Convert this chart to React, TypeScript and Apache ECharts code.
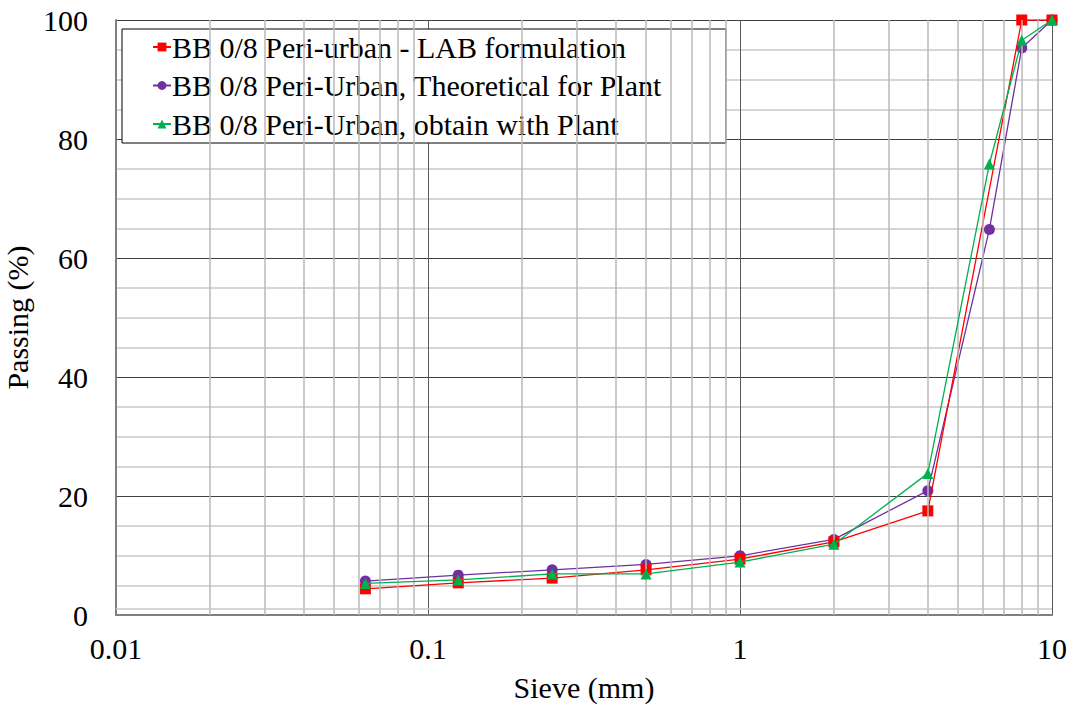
import React, { useEffect, useRef } from "react";
import * as echarts from "echarts";

const sieves = [0.063, 0.125, 0.25, 0.5, 1, 2, 4, 6.3, 8, 10];
const labFormulation = [4.4, 5.4, 6.2, 7.6, 9.4, 12.3, 17.5, null, 100, 100];
const theoreticalPlant = [5.7, 6.7, 7.6, 8.5, 9.95, 12.7, 20.9, 64.8, 95.3, 100];
const obtainPlant = [5.3, 5.9, 6.9, 6.9, 8.9, 11.9, 23.8, 75.8, 96.6, 100];
const seriesNames = [
  "BB 0/8 Peri-urban - LAB formulation",
  "BB 0/8 Peri-Urban, Theoretical for Plant",
  "BB 0/8 Peri-Urban, obtain with Plant",
];
const xMinorLines = [
  0.02, 0.03, 0.04, 0.05, 0.06, 0.07, 0.08, 0.09,
  0.2, 0.3, 0.4, 0.5, 0.6, 0.7, 0.8, 0.9,
  2, 3, 4, 5, 6, 7, 8, 9,
];
const xTickLabels: Record<string, string> = { "0.01": "0.01", "0.1": "0.1", "1": "1", "10": "10" };

const FONT = "Liberation Serif";
const FS = 30;

function pairs(vals: (number | null)[]) {
  const out: [number, number][] = [];
  vals.forEach((v, i) => {
    if (v !== null) out.push([sieves[i], v]);
  });
  return out;
}

export default function App() {
  const ref = useRef<HTMLDivElement>(null);
  useEffect(() => {
    if (!ref.current) return;
    const chart = echarts.init(ref.current, null, { renderer: "svg" });
    chart.setOption({
      animation: false,
      backgroundColor: "#fff",
      textStyle: { fontFamily: FONT },
      grid: { left: 116, top: 20, right: 21, bottom: 96, containLabel: false, outerBoundsMode: "none" },
      legend: {
        orient: "vertical",
        left: 122,
        top: 29,
        padding: [3, 64, 4, 30],
        itemGap: 8.5,
        itemWidth: 18,
        itemHeight: 11,
        backgroundColor: "#fff",
        borderColor: "#000",
        borderWidth: 1,
        borderRadius: 0,
        textStyle: { fontFamily: FONT, fontSize: FS, color: "#000", lineHeight: 30, padding: [0, 0, 0, -4] },
        data: seriesNames,
      },
      xAxis: {
        type: "log",
        logBase: 10,
        min: 0.01,
        max: 10,
        name: "Sieve (mm)",
        nameLocation: "middle",
        nameGap: 57,
        nameTextStyle: { fontFamily: FONT, fontSize: FS, color: "#000" },
        axisLine: { show: true, lineStyle: { color: "#7f7f7f", width: 2 } },
        axisTick: { show: false },
        axisLabel: {
          fontFamily: FONT,
          fontSize: FS,
          color: "#000",
          margin: 18,
          formatter: (v: number) => xTickLabels[String(+v.toPrecision(3))] ?? String(v),
        },
        splitLine: { show: true, lineStyle: { color: "#595959", width: 1 } },
      },
      yAxis: {
        type: "value",
        min: 0,
        max: 100,
        interval: 20,
        name: "Passing (%)",
        nameLocation: "middle",
        nameGap: 79,
        nameTextStyle: { fontFamily: FONT, fontSize: FS, color: "#000" },
        axisLine: { show: true, lineStyle: { color: "#7f7f7f", width: 2 } },
        axisTick: { show: false },
        axisLabel: { fontFamily: FONT, fontSize: FS, color: "#000", margin: 28 },
        splitLine: { show: true, lineStyle: { color: "#404040", width: 1 } },
        minorTick: { show: false, splitNumber: 4 },
        minorSplitLine: { show: true, lineStyle: { color: "#c8c8c8", width: 1.5 } },
      },
      series: [
        {
          name: "gridlines",
          type: "line",
          data: [],
          z: 1,
          silent: true,
          markLine: {
            silent: true,
            symbol: "none",
            label: { show: false },
            lineStyle: { color: "#b8b8b8", width: 1.5, type: "solid" },
            data: [
              ...xMinorLines.map((x) => ({ xAxis: x })),
              { yAxis: 1, lineStyle: { color: "#c8c8c8", width: 1.5, type: "solid" } },
            ],
          },
        },
        {
          name: seriesNames[0],
          type: "line",
          data: pairs(labFormulation),
          z: 4,
          symbol: "rect",
          symbolSize: 11,
          itemStyle: { color: "#ff0000" },
          lineStyle: { color: "#ff0000", width: 1.3 },
        },
        {
          name: seriesNames[1],
          type: "line",
          data: pairs(theoreticalPlant),
          z: 3,
          symbol: "circle",
          symbolSize: 11,
          itemStyle: { color: "#7030a0" },
          lineStyle: { color: "#7030a0", width: 1.3 },
        },
        {
          name: seriesNames[2],
          type: "line",
          data: pairs(obtainPlant),
          z: 5,
          symbol: "triangle",
          symbolSize: 11,
          itemStyle: { color: "#00b050" },
          lineStyle: { color: "#00b050", width: 1.3 },
        },
      ],
    });
    return () => chart.dispose();
  }, []);
  return <div ref={ref} style={{ width: 1073, height: 711, position: "absolute", left: 0, top: 0 }} />;
}
